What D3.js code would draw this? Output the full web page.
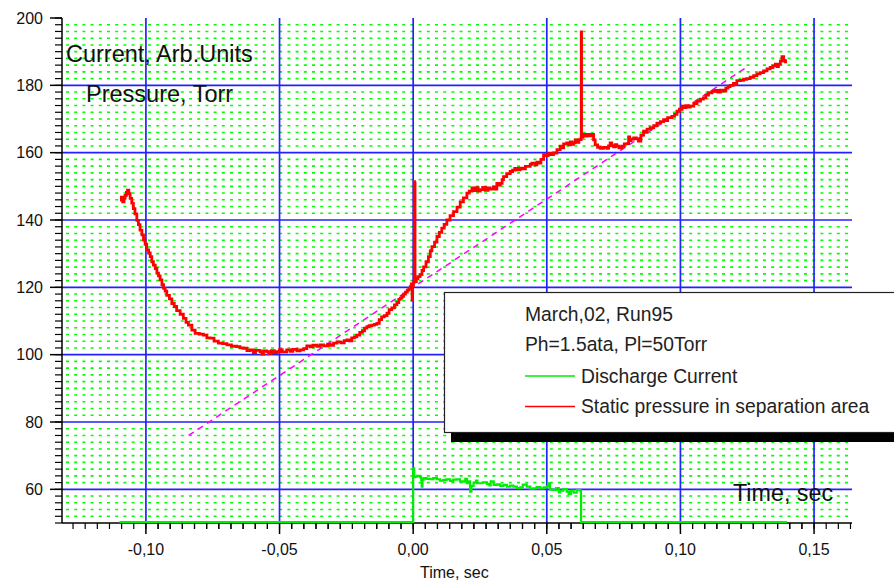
<!DOCTYPE html>
<html><head><meta charset="utf-8">
<script src="https://cdn.jsdelivr.net/npm/d3@7"></script>
<style>
html,body{margin:0;padding:0;background:#fff;}
svg{display:block;font-family:"Liberation Sans",Arial,sans-serif;}
</style></head>
<body><svg id="chart" width="894" height="583"></svg>
<script>
// ---- data ----
const xMajorTicks = [-0.10, -0.05, 0.00, 0.05, 0.10, 0.15];
const xTickLabels = ["-0,10", "-0,05", "0,00", "0,05", "0,10", "0,15"];
const yMajorTicks = [60, 80, 100, 120, 140, 160, 180, 200];
const yTickLabels = ["60", "80", "100", "120", "140", "160", "180", "200"];
const legendTitles = ["March,02, Run95", "Ph=1.5ata, Pl=50Torr"];
const seriesNames = ["Discharge Current", "Static pressure in separation area"];
const trendT = [-0.084, 0.125];
const trendV = [76, 185.5];
const pressure = [[-0.1097,145.9],[-0.1092,146.8],[-0.1087,145.4],[-0.1082,146.6],[-0.1078,147.3],[-0.1073,148.2],[-0.1069,148.9],[-0.1064,147.8],[-0.1059,146.4],[-0.1053,145.0],[-0.1047,143.4],[-0.1041,141.8],[-0.1034,139.9],[-0.1028,138.6],[-0.1022,137.0],[-0.1015,135.6],[-0.1009,134.0],[-0.1003,132.8],[-0.0997,131.1],[-0.0990,130.2],[-0.0984,129.1],[-0.0978,127.6],[-0.0972,126.6],[-0.0965,125.6],[-0.0959,124.2],[-0.0953,123.4],[-0.0947,122.2],[-0.0940,120.8],[-0.0934,119.7],[-0.0928,118.9],[-0.0922,117.6],[-0.0912,116.6],[-0.0903,115.2],[-0.0894,114.3],[-0.0885,113.1],[-0.0872,112.0],[-0.0860,110.8],[-0.0850,109.6],[-0.0841,108.8],[-0.0828,107.3],[-0.0816,106.3],[-0.0800,106.1],[-0.0785,105.8],[-0.0772,105.0],[-0.0760,104.9],[-0.0745,104.0],[-0.0729,103.4],[-0.0713,103.3],[-0.0697,102.9],[-0.0680,102.5],[-0.0660,102.4],[-0.0648,102.0],[-0.0635,101.9],[-0.0622,101.2],[-0.0610,101.4],[-0.0598,100.6],[-0.0590,101.3],[-0.0573,100.9],[-0.0566,100.2],[-0.0560,101.1],[-0.0548,100.9],[-0.0540,100.4],[-0.0530,101.2],[-0.0520,100.6],[-0.0510,100.9],[-0.0500,101.5],[-0.0490,100.8],[-0.0473,101.4],[-0.0460,101.0],[-0.0450,101.6],[-0.0435,101.1],[-0.0423,101.4],[-0.0410,101.8],[-0.0398,102.6],[-0.0385,102.3],[-0.0375,102.8],[-0.0360,102.5],[-0.0348,102.9],[-0.0335,102.6],[-0.0320,103.1],[-0.0310,102.8],[-0.0298,103.4],[-0.0285,103.8],[-0.0270,103.5],[-0.0258,104.2],[-0.0248,104.4],[-0.0238,104.1],[-0.0230,105.0],[-0.0220,105.3],[-0.0211,105.8],[-0.0200,106.6],[-0.0190,107.1],[-0.0182,107.9],[-0.0173,108.3],[-0.0165,108.6],[-0.0155,108.8],[-0.0145,109.0],[-0.0136,109.3],[-0.0127,110.4],[-0.0118,111.2],[-0.0108,111.6],[-0.0098,112.3],[-0.0090,113.4],[-0.0080,113.9],[-0.0070,114.8],[-0.0061,115.5],[-0.0054,116.4],[-0.0048,116.8],[-0.0042,117.3],[-0.0036,118.0],[-0.0029,118.6],[-0.0022,119.2],[-0.0016,119.6],[-0.0011,120.2],[-0.0007,121.0],[-0.0004,116.2],[-0.0002,120.6],[0.0001,121.3],[0.0003,121.9],[0.0004,151.4],[0.0005,122.0],[0.0006,151.0],[0.0007,121.7],[0.0012,122.6],[0.0018,123.2],[0.0026,123.8],[0.0033,125.0],[0.0039,126.1],[0.0048,127.6],[0.0057,129.1],[0.0064,130.8],[0.0070,132.1],[0.0080,133.4],[0.0089,135.1],[0.0098,136.3],[0.0107,137.6],[0.0116,138.7],[0.0126,140.0],[0.0138,141.3],[0.0151,142.5],[0.0164,143.8],[0.0176,145.4],[0.0188,146.6],[0.0201,148.0],[0.0210,148.6],[0.0220,149.5],[0.0228,148.7],[0.0235,149.6],[0.0243,148.6],[0.0251,149.0],[0.0260,149.7],[0.0270,148.8],[0.0280,149.5],[0.0288,149.2],[0.0300,149.8],[0.0306,149.2],[0.0313,150.9],[0.0320,150.4],[0.0326,150.9],[0.0333,152.0],[0.0338,152.9],[0.0350,153.8],[0.0363,154.4],[0.0372,154.8],[0.0380,155.3],[0.0390,154.9],[0.0400,155.4],[0.0410,155.2],[0.0420,155.9],[0.0432,155.9],[0.0438,156.5],[0.0444,156.9],[0.0456,156.4],[0.0463,157.2],[0.0469,156.9],[0.0478,158.0],[0.0488,159.4],[0.0497,159.1],[0.0505,159.8],[0.0515,159.4],[0.0525,159.9],[0.0538,160.9],[0.0550,161.9],[0.0556,161.4],[0.0563,162.6],[0.0575,162.9],[0.0582,162.3],[0.0588,163.2],[0.0594,162.5],[0.0600,162.9],[0.0606,163.8],[0.0612,163.1],[0.0620,163.9],[0.0625,163.9],[0.0628,164.2],[0.0629,195.9],[0.0630,164.6],[0.0635,165.4],[0.0640,164.9],[0.0650,165.4],[0.0660,165.0],[0.0669,165.4],[0.0675,163.8],[0.0681,162.3],[0.0690,161.6],[0.0700,161.3],[0.0712,161.6],[0.0725,161.3],[0.0731,162.0],[0.0737,162.9],[0.0743,162.1],[0.0750,161.7],[0.0756,162.4],[0.0762,161.9],[0.0770,161.4],[0.0781,161.9],[0.0790,162.6],[0.0800,162.7],[0.0806,164.7],[0.0810,163.6],[0.0815,164.0],[0.0825,164.4],[0.0835,164.1],[0.0843,163.4],[0.0852,165.2],[0.0862,166.4],[0.0870,166.0],[0.0875,167.0],[0.0887,167.4],[0.0900,168.0],[0.0912,168.8],[0.0925,169.2],[0.0937,169.8],[0.0945,169.5],[0.0952,170.4],[0.0968,170.8],[0.0978,171.4],[0.0987,172.3],[0.0996,172.9],[0.1006,173.8],[0.1015,173.4],[0.1020,174.0],[0.1030,173.5],[0.1037,173.8],[0.1050,174.6],[0.1062,175.3],[0.1075,175.9],[0.1086,176.3],[0.1095,177.1],[0.1105,177.8],[0.1118,178.2],[0.1130,178.5],[0.1140,178.0],[0.1150,178.6],[0.1161,178.3],[0.1170,179.2],[0.1178,179.6],[0.1186,180.0],[0.1198,180.6],[0.1205,180.2],[0.1211,181.4],[0.1224,181.5],[0.1236,181.8],[0.1248,182.0],[0.1261,182.4],[0.1274,182.9],[0.1286,183.4],[0.1298,183.8],[0.1311,184.3],[0.1324,184.9],[0.1336,185.3],[0.1346,185.8],[0.1355,186.3],[0.1362,185.6],[0.1367,186.3],[0.1374,187.2],[0.1380,188.5],[0.1386,187.4],[0.1392,187.0],[0.1399,187.0]];
const current = [[-0.1099,50.3],[-0.0800,50.3],[-0.0500,50.3],[-0.0200,50.3],[-0.0002,50.3],[0.0000,66.2],[0.0004,63.6],[0.0007,63.8],[0.0015,64.0],[0.0026,63.6],[0.0030,62.8],[0.0032,60.8],[0.0035,62.9],[0.0039,63.3],[0.0050,63.1],[0.0064,63.0],[0.0075,63.3],[0.0089,63.0],[0.0100,62.6],[0.0113,62.8],[0.0125,63.0],[0.0138,62.5],[0.0150,62.9],[0.0163,63.0],[0.0175,62.4],[0.0188,62.3],[0.0195,63.1],[0.0201,61.8],[0.0207,62.4],[0.0213,59.3],[0.0218,61.0],[0.0226,62.0],[0.0235,62.6],[0.0240,61.8],[0.0251,61.8],[0.0260,62.1],[0.0276,61.6],[0.0285,61.2],[0.0290,62.4],[0.0301,61.3],[0.0315,61.5],[0.0326,61.0],[0.0338,61.3],[0.0351,60.8],[0.0363,61.1],[0.0375,60.8],[0.0388,60.4],[0.0400,60.6],[0.0410,61.4],[0.0425,60.8],[0.0438,60.2],[0.0450,60.3],[0.0462,60.7],[0.0475,60.3],[0.0488,60.6],[0.0500,60.8],[0.0505,61.8],[0.0512,59.9],[0.0525,59.8],[0.0535,60.4],[0.0545,59.1],[0.0550,59.6],[0.0562,60.1],[0.0575,59.3],[0.0582,58.6],[0.0590,59.6],[0.0600,59.0],[0.0612,59.8],[0.0625,59.6],[0.0628,50.3],[0.0800,50.3],[0.1000,50.3],[0.1200,50.3],[0.1399,50.3]];

// ---- layout ----
const svg = d3.select("#chart");
const x = d3.scaleLinear().domain([-0.1314, 0.1642]).range([62, 852]);
const y = d3.scaleLinear().domain([50, 200]).range([523, 18]);
const X0 = x.range()[0], X1 = x.range()[1], Y0 = y.range()[0], Y1 = y.range()[1];

// green dotted grid rows every 2 units
const greenRows = d3.range(52, 200, 2).filter(v => v % 20 !== 0);
svg.append("g").selectAll("line").data(greenRows).join("line")
  .attr("x1", X0 + 1).attr("x2", X1).attr("y1", d => y(d)).attr("y2", d => y(d))
  .attr("stroke", "#00ff00").attr("stroke-width", 1.6).attr("stroke-dasharray", "3,5.2")
  .attr("stroke-dashoffset", -3);

// blue major grid
const gridH = yMajorTicks.filter(v => v < 200);
svg.append("g").selectAll("line").data(gridH).join("line")
  .attr("x1", X0).attr("x2", X1).attr("y1", d => y(d)).attr("y2", d => y(d))
  .attr("stroke", "#2222ff").attr("stroke-width", 1.7);
svg.append("g").selectAll("line").data(xMajorTicks).join("line")
  .attr("x1", d => x(d)).attr("x2", d => x(d)).attr("y1", Y1).attr("y2", Y0)
  .attr("stroke", "#2222ff").attr("stroke-width", 1.7);

// axes
const xMinor = [];
xMajorTicks.forEach(t => { for (let k = -10; k <= 10; k++) { const v = t + k * 0.05 / 11; if (v >= -0.1314 && v <= 0.1642) xMinor.push(v); } });
const yMinor = d3.range(50, 201, 2);
const ax = svg.append("g").attr("stroke", "#000");
ax.append("line").attr("x1", X0).attr("x2", X1).attr("y1", Y0).attr("y2", Y0).attr("stroke-width", 1.5);
ax.append("line").attr("x1", X0).attr("x2", X0).attr("y1", Y1).attr("y2", Y0).attr("stroke-width", 1.5);
ax.selectAll(".xm").data(xMinor).join("line").attr("x1", d => x(d)).attr("x2", d => x(d)).attr("y1", Y0).attr("y2", Y0 + 6).attr("stroke-width", 1.2);
ax.selectAll(".xM").data(xMajorTicks).join("line").attr("x1", d => x(d)).attr("x2", d => x(d)).attr("y1", Y0).attr("y2", Y0 + 11).attr("stroke-width", 1.5);
ax.selectAll(".ym").data(yMinor).join("line").attr("x1", X0 - 7).attr("x2", X0).attr("y1", d => y(d)).attr("y2", d => y(d)).attr("stroke-width", 1.2);
ax.selectAll(".yM").data(yMajorTicks).join("line").attr("x1", X0 - 12).attr("x2", X0).attr("y1", d => y(d)).attr("y2", d => y(d)).attr("stroke-width", 1.5);

svg.append("g").selectAll("text").data(xMajorTicks).join("text")
  .attr("x", d => x(d)).attr("y", 555).attr("text-anchor", "middle")
  .attr("font-size", 16).attr("fill", "#111").text((d, i) => xTickLabels[i]);
svg.append("g").selectAll("text").data(yMajorTicks).join("text")
  .attr("x", 43).attr("y", d => y(d) + 5.5).attr("text-anchor", "end")
  .attr("font-size", 16).attr("fill", "#111").text((d, i) => yTickLabels[i]);
svg.append("text").attr("x", 420).attr("y", 578).attr("font-size", 16).attr("fill", "#111").text("Time, sec");

// in-plot labels
svg.append("text").attr("x", 66).attr("y", 62).attr("font-size", 23.5).attr("fill", "#111").text("Current, Arb.Units");
svg.append("text").attr("x", 86).attr("y", 102).attr("font-size", 23.5).attr("fill", "#111").text("Pressure, Torr");
svg.append("text").attr("x", 733).attr("y", 501).attr("font-size", 23.3).attr("fill", "#111").text("Time, sec");

// trend line
const line = d3.line().x(d => x(d[0])).y(d => y(d[1]));
const stepLine = d3.line().x(d => x(d[0])).y(d => y(d[1])).curve(d3.curveStepAfter);
svg.append("path").datum(trendT.map((t, i) => [t, trendV[i]]))
  .attr("d", line).attr("fill", "none").attr("stroke", "#ff00ff").attr("stroke-width", 1.5).attr("stroke-dasharray", "6,5");

// series
svg.append("path").datum(current).attr("d", stepLine).attr("fill", "none")
  .attr("stroke", "#00ee00").attr("stroke-width", 2.2);
svg.append("path").datum(pressure).attr("d", stepLine).attr("fill", "none")
  .attr("stroke", "#ff0000").attr("stroke-width", 2.8).attr("stroke-linejoin", "miter");

// legend
const lg = svg.append("g");
lg.append("rect").attr("x", 451).attr("y", 300).attr("width", 460).attr("height", 142).attr("fill", "#000");
lg.append("rect").attr("x", 444.5).attr("y", 292.5).attr("width", 460).attr("height", 140).attr("fill", "#fff").attr("stroke", "#222").attr("stroke-width", 1.2);
legendTitles.forEach((t, i) => lg.append("text").attr("x", 525).attr("y", 321 + i * 30).attr("font-size", 19.3).attr("fill", "#222").text(t));
const legColors = ["#00ee00", "#ff0000"];
seriesNames.forEach((t, i) => {
  const yy = 376 + i * 30.5;
  lg.append("line").attr("x1", 525).attr("x2", 575).attr("y1", yy).attr("y2", yy).attr("stroke", legColors[i]).attr("stroke-width", 1.3);
  lg.append("text").attr("x", 581).attr("y", yy + 6.5).attr("font-size", 19.3).attr("fill", "#222").text(t);
});
</script></body></html>
